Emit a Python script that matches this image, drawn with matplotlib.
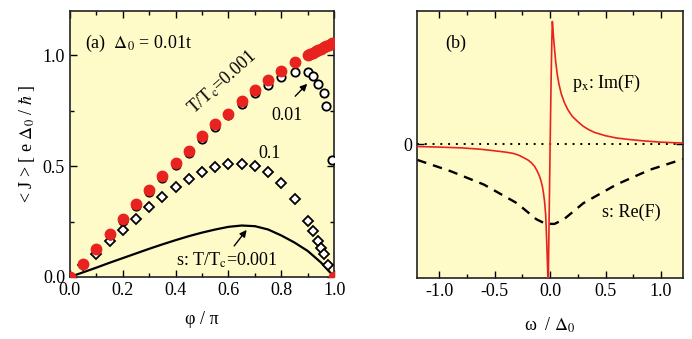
import matplotlib
matplotlib.use("Agg")
import matplotlib.pyplot as plt
from matplotlib.ticker import MultipleLocator

plt.rcParams['font.family'] = ['Liberation Serif', 'DejaVu Serif']
plt.rcParams['mathtext.fontset'] = 'stix'
plt.rcParams['font.size'] = 13

BG = '#fffbc9'
RED = '#e8231f'

## panel (a): current vs phase
phi_red = [0.0, 0.05, 0.10, 0.15, 0.20, 0.25, 0.30, 0.35, 0.40, 0.45, 0.50, 0.55,
           0.60, 0.65, 0.70, 0.75, 0.80, 0.85, 0.90, 0.91, 0.92, 0.93, 0.94,
           0.95, 0.96, 0.97, 0.98, 0.99, 1.0]
J_red = [0.0, 0.06, 0.128, 0.195, 0.26, 0.327, 0.39, 0.455, 0.515, 0.57, 0.634, 0.688,
         0.736, 0.793, 0.844, 0.89, 0.93, 0.968, 1.0, 1.006, 1.012, 1.018, 1.024,
         1.03, 1.036, 1.042, 1.048, 1.054, 0.0]

phi_circ = [0.05, 0.10, 0.15, 0.20, 0.25, 0.30, 0.35, 0.40, 0.45, 0.50, 0.55, 0.60,
            0.65, 0.70, 0.75, 0.80, 0.85, 0.90, 0.92, 0.94, 0.96, 0.97, 0.99]
J_circ = [0.058, 0.124, 0.19, 0.254, 0.32, 0.382, 0.446, 0.505, 0.56, 0.622, 0.676, 0.73,
          0.78, 0.828, 0.866, 0.9, 0.925, 0.925, 0.904, 0.868, 0.83, 0.77, 0.527]

phi_dia = [0.05, 0.10, 0.15, 0.20, 0.25, 0.30, 0.35, 0.40, 0.45, 0.50, 0.55, 0.60,
           0.65, 0.70, 0.75, 0.80, 0.85, 0.90, 0.92, 0.94, 0.95, 0.96, 0.975]
J_dia = [0.052, 0.105, 0.162, 0.213, 0.263, 0.315, 0.36, 0.405, 0.44, 0.473, 0.498, 0.51,
         0.51, 0.5, 0.473, 0.425, 0.353, 0.252, 0.207, 0.162, 0.13, 0.105, 0.053]

phi_s = [0.0, 0.05, 0.10, 0.15, 0.20, 0.25, 0.30, 0.35, 0.40, 0.45, 0.50, 0.55, 0.60,
         0.65, 0.70, 0.75, 0.80, 0.85, 0.90, 0.95, 1.0]
J_s = [0.0, 0.021, 0.042, 0.064, 0.085, 0.106, 0.127, 0.147, 0.166, 0.184, 0.2, 0.214, 0.226,
       0.232, 0.229, 0.214, 0.187, 0.155, 0.117, 0.065, 0.0]

## panel (b): anomalous Green's function
w_im = [-1.2, -1.0, -0.8, -0.63, -0.5, -0.4, -0.33, -0.28, -0.245, -0.2, -0.17, -0.14,
        -0.12, -0.1, -0.085, -0.07, -0.06, -0.05, -0.04, -0.034, -0.028, -0.022, -0.018,
        -0.01, 0.0, 0.01, 0.016, 0.02, 0.025, 0.03, 0.04, 0.05, 0.065, 0.08, 0.1, 0.13,
        0.16, 0.2, 0.25, 0.3, 0.35, 0.4, 0.5, 0.6, 0.7, 0.85, 1.0, 1.2]
F_im = [-0.016, -0.02, -0.026, -0.036, -0.048, -0.058, -0.068, -0.082, -0.097, -0.117,
        -0.137, -0.165, -0.195, -0.23, -0.265, -0.315, -0.365, -0.43, -0.53, -0.66, -0.8,
        -0.95, -1.1, -0.6, 0.0, 0.55, 0.8, 0.92, 0.87, 0.81, 0.71, 0.62, 0.52, 0.45, 0.38,
        0.31, 0.26, 0.21, 0.17, 0.135, 0.11, 0.09, 0.065, 0.048, 0.038, 0.026, 0.017, 0.01]

w_re = [-1.2, -0.9, -0.6, -0.3, -0.125, -0.04, 0.04, 0.125, 0.3, 0.6, 0.9, 1.2]
F_re = [-0.116, -0.2, -0.3, -0.44, -0.56, -0.595, -0.595, -0.56, -0.44, -0.3, -0.19, -0.11]

fig = plt.figure(figsize=(6.92, 3.39), dpi=100)
ax1 = fig.add_axes([0.101, 0.183, 0.382, 0.785])
ax2 = fig.add_axes([0.603, 0.180, 0.384, 0.788])

for ax in (ax1, ax2):
    ax.set_facecolor(BG)
    ax.tick_params(which='both', direction='in', top=True, right=True, labelsize=13)
    ax.tick_params(which='major', length=5, width=1)
    ax.tick_params(which='minor', length=3, width=1)
    for sp in ax.spines.values():
        sp.set_linewidth(1.2)
        sp.set_color('#222222')

ax1.plot(phi_s, J_s, color='black', lw=1.6, zorder=2)
ax1.plot(phi_dia, J_dia, 'D', ms=5, mfc='white', mec='black', mew=1.3, zorder=3)
ax1.plot(phi_circ, J_circ, 'o', ms=6, mfc='white', mec='black', mew=1.3, zorder=4)
ax1.plot(phi_red, J_red, 'o', ms=7.5, color=RED, mec=RED, zorder=5)

ax1.set_xlim(0, 1)
ax1.set_ylim(0, 1.2)
ax1.xaxis.set_major_locator(MultipleLocator(0.2))
ax1.xaxis.set_minor_locator(MultipleLocator(0.1))
ax1.yaxis.set_major_locator(MultipleLocator(0.5))
ax1.yaxis.set_minor_locator(MultipleLocator(0.25))
ax1.xaxis.set_major_formatter(lambda v, p: f"{v:.1f}")
ax1.yaxis.set_major_formatter(lambda v, p: f"{v:.1f}")
ax1.set_xlabel("φ / π", fontsize=13, labelpad=9)
ax1.set_ylabel(r"< J > [ e $\Delta_0$ / $\hbar$ ]", fontsize=13, labelpad=4)

ax1.text(0.057, 1.055, r"(a)  $\Delta_0$ = 0.01t", fontsize=13, va='center')
ax1.text(0.575, 0.88, r"T/T$_{\rm c}$=0.001", fontsize=13, rotation=42,
         ha='center', va='center')
ax1.text(0.82, 0.73, "0.01", fontsize=13, ha='center', va='center')
ax1.text(0.757, 0.558, "0.1", fontsize=13, ha='center', va='center')
ax1.text(0.594, 0.075, r"s: T/T$_{\rm c}$=0.001", fontsize=13, ha='center', va='center')
ax1.annotate("", xy=(0.905, 0.88), xytext=(0.845, 0.806),
             arrowprops=dict(arrowstyle='-|>', color='black', lw=1, mutation_scale=10))
ax1.annotate("", xy=(0.675, 0.222), xytext=(0.615, 0.13),
             arrowprops=dict(arrowstyle='-|>', color='black', lw=1, mutation_scale=10))

ax2.axhline(0, color='black', lw=1.4, ls=(0, (1, 3)), zorder=1)
ax2.plot(w_re, F_re, color='black', lw=1.7, ls=(0, (4, 3)), zorder=2)
ax2.plot(w_im, F_im, color=RED, lw=1.2, zorder=3)
ax2.set_xlim(-1.2, 1.2)
ax2.set_ylim(-1, 1)
ax2.xaxis.set_major_locator(MultipleLocator(0.5))
ax2.xaxis.set_minor_locator(MultipleLocator(0.25))
ax2.xaxis.set_major_formatter(lambda v, p: f"{v:.1f}")
ax2.set_yticks([0])
ax2.set_yticklabels(["0"])
ax2.set_xlabel(r"ω  / $\Delta_0$", fontsize=13, labelpad=11)
ax2.text(0.105, 0.88, "(b)", transform=ax2.transAxes, fontsize=13, va='center')
ax2.text(0.2, 0.46, r"p$_{\rm x}$: Im(F)", fontsize=13, va='center')
ax2.text(0.73, -0.51, "s: Re(F)", fontsize=13, ha='center', va='center')

fig.savefig("out.png", dpi=100)
